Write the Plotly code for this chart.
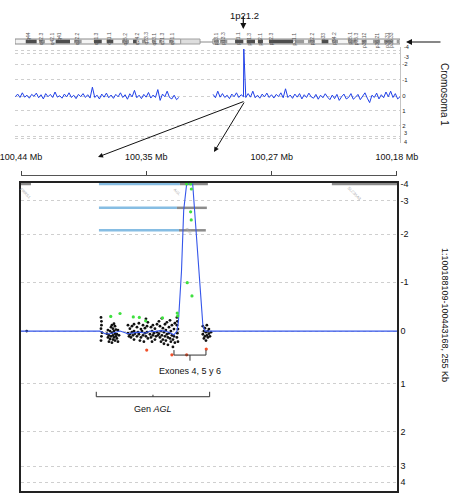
import numpy as np
import plotly.graph_objects as go

W, H = 463, 494
FONT = "Arial, Liberation Sans, sans-serif"


def px(x):
    return x / W


def py(y):
    return 1 - y / H


# ---------------- top panel: chromosome 1 profile (Mb, q-ter drawn on the left)
chr_len = 247.2

left_mb = [247.0, 245.5, 244.0, 242.5, 241.0, 239.5, 238.0, 236.5, 235.0, 233.5,
           232.0, 230.5, 229.0, 227.5, 226.0, 224.5, 223.0, 221.5, 220.0, 218.5,
           217.0, 215.5, 214.0, 212.5, 211.0, 209.5, 208.0, 206.5, 205.0, 203.5,
           202.0, 200.5, 199.0, 197.5, 196.0, 194.5, 193.0, 191.5, 190.0, 188.5,
           187.0, 185.5, 184.0, 182.5, 181.0, 179.5, 178.0, 176.5, 175.0, 173.5,
           172.0, 170.5, 169.0, 167.5, 166.0, 164.5, 163.0, 161.5, 160.0, 158.5,
           157.0, 155.5, 154.0, 152.5, 151.0, 149.5, 148.0, 146.5, 145.0, 143.5,
           142.0]
left_lr = [0.05, -0.12, 0.10, -0.20, 0.08, -0.05, 0.15, -0.10, 0.02, -0.18,
           0.12, -0.08, 0.20, -0.15, 0.05, -0.10, 0.10, -0.25, 0.08, -0.02,
           0.15, -0.12, 0.06, -0.20, 0.10, -0.05, 0.18, -0.10, 0.04, -0.15,
           0.10, -0.08, 0.14, -0.55, 0.10, -0.05, 0.20, -0.12, 0.08, -0.18,
           0.12, -0.06, 0.16, -0.10, 0.05, -0.20, 0.10, -0.08, 0.22, -0.14,
           0.06, -0.35, 0.12, -0.05, 0.18, -0.10, 0.08, -0.22, 0.14, -0.06,
           0.10, -0.40, 0.30, -0.12, 0.05, -0.30, 0.10, 0.20, -0.05, 0.25,
           0.10]
right_mb = [120.0, 118.5, 117.0, 115.5, 114.0, 112.5, 111.0, 109.5, 108.0, 106.5,
            105.0, 103.5, 102.0, 100.5, 100.3, 99.0, 97.5, 96.0, 94.5, 93.0,
            91.5, 90.0, 88.5, 87.0, 85.5, 84.0, 82.5, 81.0, 79.5, 78.0,
            76.5, 75.0, 73.5, 72.0, 70.5, 69.0, 67.5, 66.0, 64.5, 63.0,
            61.5, 60.0, 58.5, 57.0, 55.5, 54.0, 52.5, 51.0, 49.5, 48.0,
            46.5, 45.0, 43.5, 42.0, 40.5, 39.0, 37.5, 36.0, 34.5, 33.0,
            31.5, 30.0, 28.5, 27.0, 25.5, 24.0, 22.5, 21.0, 19.5, 18.0,
            16.5, 15.0, 13.5, 12.0, 10.5, 9.0, 7.5, 6.0, 4.5, 3.0,
            1.5, 0.0]
right_lr = [-0.10, 0.12, -0.30, 0.08, -0.15, 0.10, -0.05, 0.18, -0.12, 0.05,
            -0.20, 0.10, -0.08, 0.05, -4.50, 0.10, -0.15, 0.08, -0.30, 0.12,
            -0.05, 0.15, -0.12, 0.06, -0.18, 0.10, -0.08, 0.14, -0.10, 0.04,
            -0.20, 0.12, -0.45, 0.10, -0.06, 0.16, -0.12, 0.08, -0.15, 0.20,
            -0.08, 0.10, -0.18, 0.06, 0.15, -0.10, 0.22, -0.05, 0.12, -0.14,
            0.08, 0.25, -0.06, 0.18, -0.10, 0.30, 0.05, -0.12, 0.20, 0.10,
            -0.15, 0.22, 0.08, -0.10, 0.25, 0.05, -0.20, 0.15, 0.45, -0.05,
            0.10, -0.18, 0.20, -0.08, 0.12, -0.25, 0.05, -0.30, 0.10, -0.15,
            0.20, 0.05]

# ideogram bands (Mb)
band_start = [240.3, 231.8, 221.1, 209.3, 196.5, 188.3, 178.5, 171.4, 165.7, 159.2,
              154.7, 148.3, 119.4, 115.6, 105.9, 98.4, 91.2, 84.1, 67.4, 59.1,
              50.3, 43.7, 33.4, 24.6, 17.3, 10.3, 2.1]
band_end = [233.3, 228.0, 211.9, 204.4, 191.5, 184.1, 174.0, 169.1, 163.3, 156.9,
            153.0, 145.6, 116.2, 110.9, 100.6, 93.1, 88.0, 68.7, 61.6, 54.6,
            46.0, 39.8, 27.8, 21.4, 12.8, 4.3, 0.6]
band_stain = ["dark", "gray", "dark", "gray", "dark", "dark", "gray", "dark", "gray", "gray",
              "gray", "gray", "gray", "gray", "dark", "dark", "dark", "dark", "gray", "gray",
              "dark", "gray", "gray", "gray", "gray", "gray", "gray"]
heterochrom = (140.8, 128.4)
centromere = (128.4, 120.1)

band_lbl_mb = [239.3, 230.7, 223.6, 219.4, 207.6, 195.4, 187.3, 176.6, 169.1, 163.7,
               158.0, 153.0, 146.6, 118.3, 114.1, 104.5, 97.0, 89.9, 83.0, 68.1,
               56.7, 49.6, 42.8, 32.7, 28.4, 23.1, 14.6, 8.5, 6.0]
band_lbl = ["q44", "q42.3", "q42.1", "q41", "q32.2", "q31.3", "q31.1", "q25.2", "q24.2", "q23.3",
            "q23.1", "q21.3", "q21.1", "p13.1", "p13.3", "p21.1", "p21.3", "p22.1", "p22.3", "p31.1",
            "p32.2", "p33", "p34.2", "p35.1", "p35.3", "p36.12", "p36.21", "p36.31", "p36.33"]

# ---------------- bottom panel: zoom 1:100188109-100443168 (kb)
zoom_start, zoom_end = 100443.168, 100188.109
zoom_ticks = [100443.1, 100358.15, 100273.13, 100188.2]
zoom_tick_txt = ["100,44 Mb", "100,35 Mb", "100,27 Mb", "100,18 Mb"]

probe_kb = [100439.3,
            100388.9, 100388.6, 100388.6, 100388.9, 100388.2, 100388.6, 100388.9,
            100384.9, 100384.2, 100384.2, 100383.5, 100383.5, 100382.8, 100382.8, 100382.1, 100382.1, 100381.5,
            100381.5, 100381.5, 100380.8, 100380.8, 100380.8, 100380.1, 100380.1, 100380.1, 100379.4, 100379.4,
            100379.4, 100378.8, 100378.8, 100378.1, 100378.1, 100377.4, 100377.4, 100376.7,
            100370.6, 100370.6, 100369.9, 100369.3, 100369.3, 100368.6, 100367.9, 100367.9, 100367.2, 100366.5,
            100366.5, 100366.5, 100365.9,
            100364.5, 100364.5, 100363.8, 100363.2, 100363.2, 100362.5, 100361.8, 100361.8, 100361.1, 100360.4,
            100360.4, 100359.8, 100359.1, 100359.1, 100358.4, 100358.4, 100357.7, 100357.7, 100357.1, 100357.1,
            100355.7, 100355.0, 100355.0, 100354.3, 100354.3, 100353.7, 100353.7, 100353.0, 100352.3, 100352.3,
            100351.6, 100350.9, 100350.9, 100350.3,
            100349.6, 100349.6, 100348.9, 100348.9, 100348.2, 100348.2, 100347.6, 100347.6, 100346.9, 100346.9,
            100346.2, 100346.2, 100345.5, 100345.5, 100344.9, 100344.9, 100344.2, 100344.2, 100343.5, 100343.5,
            100342.8, 100342.8, 100342.1, 100342.1, 100341.5, 100341.5, 100340.8, 100340.8, 100340.1, 100340.1,
            100339.4, 100339.4, 100338.8, 100338.8,
            100337.4, 100337.1, 100337.4, 100336.7, 100337.1, 100337.4, 100336.7,
            100319.8, 100319.8, 100319.1, 100319.1, 100318.4, 100318.4, 100317.7, 100317.7, 100317.1, 100317.1,
            100316.4, 100316.4, 100315.7, 100315.7, 100315.0, 100314.3]
probe_lr = [0.0,
            -0.28, -0.20, -0.12, -0.05, 0.03, 0.10, 0.18,
            0.05, -0.02, 0.12, 0.08, 0.20, 0.00, 0.15, -0.08, 0.10, -0.12,
            0.03, 0.22, -0.05, 0.08, 0.16, -0.15, 0.00, 0.12, -0.10, 0.05,
            0.18, -0.03, 0.10, 0.06, 0.14, -0.02, 0.20, 0.08,
            -0.12, 0.04, 0.10, -0.05, 0.06, 0.12, -0.10, 0.02, 0.08, -0.14,
            0.00, 0.16, 0.05,
            -0.08, 0.10, 0.02, -0.16, 0.06, 0.18, -0.04, 0.12, 0.00, -0.12,
            0.08, 0.20, -0.06, 0.04, -0.25, 0.10, -0.10, 0.02, 0.14, -0.18,
            0.06, -0.08, 0.12, 0.00, 0.20, -0.12, 0.08, 0.04, -0.05, 0.16,
            0.10, -0.14, 0.02, 0.08,
            -0.20, 0.05, -0.10, 0.12, 0.00, 0.20, -0.26, 0.08, -0.06, 0.16,
            0.02, 0.24, -0.14, 0.10, -0.02, 0.18, 0.06, -0.18, 0.12, 0.26,
            -0.08, 0.04, 0.14, -0.22, 0.00, 0.20, -0.12, 0.08, 0.16, 0.30,
            -0.04, 0.10, 0.22, -0.16,
            -0.28, -0.20, -0.12, -0.04, 0.04, 0.12, 0.20,
            -0.10, 0.06, 0.00, 0.14, -0.06, 0.10, 0.02, 0.18, -0.12, 0.08,
            0.00, 0.12, 0.05, -0.04, 0.10, 0.02]

green_kb = [100382.3, 100376.0, 100367.0, 100362.9, 100358.6, 100347.2, 100337.2, 100336.9,
            100330.8, 100328.1, 100327.6, 100328.1, 100327.7, 100330.4, 100327.2]
green_lr = [-0.30, -0.36, -0.29, -0.28, -0.21, -0.27, -0.37, -0.31,
            -4.0, -4.0, -3.7, -2.67, -2.43, -0.99, -0.72]
red_kb = [100357.9, 100340.8, 100330.8, 100317.5]
red_lr = [0.36, 0.45, 0.45, 0.34]

avg_kb = [100443.2, 100389.6, 100386.2, 100382.8, 100376.0, 100370.6, 100365.9, 100362.5, 100359.1,
          100355.7, 100352.3, 100348.9, 100345.5, 100342.1, 100339.4, 100337.4, 100336.4, 100335.4,
          100334.3, 100332.8, 100330.8, 100326.7, 100322.3, 100321.1, 100319.8, 100318.4, 100188.1]
avg_lr = [0.0, 0.0, 0.05, 0.05, 0.0, 0.05, 0.03, 0.02, 0.04,
          0.0, 0.01, -0.01, 0.0, 0.03, 0.07, 0.0, -0.18, -0.62,
          -1.23, -2.72, -4.0, -4.0, -1.1, -0.49, -0.12, 0.0, 0.0]

# gene track segments (start kb, end kb, row, colour key)
gene_x0 = [100443.2, 100390.3, 100335.4, 100390.3, 100337.4, 100390.3, 100336.0, 100232.3]
gene_x1 = [100436.4, 100335.4, 100316.4, 100337.4, 100317.1, 100336.0, 100317.8, 100188.1]
gene_row = [-4.0, -4.0, -4.0, -2.79, -2.79, -2.12, -2.12, -4.0]
gene_col = ["gray", "blue", "gray", "blue", "gray", "blue", "gray", "gray"]
gene_lbl_kb = [100439.8, 100336.7, 100328.6, 100216.8]
gene_lbl_row = [-3.45, -3.5, -2.09, -3.45]
gene_lbl = ["FRRS1", "AGL", "AGL", "SLC35A3"]

exon_kb = (100339.4, 100317.7)
agl_kb = (100392.1, 100315.2)

lr_ticks = [-4, -3, -2, -1, 0, 1, 2, 3, 4]
# the top panel packs -4/-3 and 3/4 very close: those labels are set apart by hand
top_tick_txt = ["", "", "-2", "-1", "0", "1", "2", "", ""]
top_packed = [-4, -3, 3, 4]
top_packed_shift = [3.5, -3.5, 3.5, -3.5]

# compressed log-ratio scales (linear between -2 and 2)
top_v = [-5, -4, -3, -2, -1, 0, 1, 2, 3, 4, 5]
top_f = [-3.15, -2.95, -2.79, -2.06, -1.04, 0, 0.95, 1.94, 2.6, 2.79, 2.98]
zoom_v = [-4, -3, -2, -1, 0, 1, 2, 3, 4]
zoom_f = [-2.98, -2.64, -1.96, -0.99, 0, 1.07, 2.04, 2.74, 3.06]


def ft(v):
    return np.interp(v, top_v, top_f)


def fz(v):
    return np.interp(v, zoom_v, zoom_f)


fig = go.Figure()

prof = dict(mode="lines", line=dict(color="#2040e8", width=1), xaxis="x", yaxis="y", hoverinfo="skip")
fig.add_trace(go.Scatter(x=left_mb, y=ft(left_lr), **prof))
fig.add_trace(go.Scatter(x=right_mb, y=ft(right_lr), **prof))

track_colors = {"gray": "#8c8c8c", "blue": "#86bde3"}
for x0, x1, r, c in zip(gene_x0, gene_x1, gene_row, gene_col):
    fig.add_trace(go.Scatter(x=[x0, x1], y=[fz(r), fz(r)], mode="lines",
                             line=dict(color=track_colors[c], width=2.5),
                             xaxis="x2", yaxis="y2", hoverinfo="skip"))

fig.add_trace(go.Scatter(x=probe_kb, y=fz(probe_lr), mode="markers",
                         marker=dict(color="#111111", size=2.8),
                         xaxis="x2", yaxis="y2"))
fig.add_trace(go.Scatter(x=avg_kb, y=fz(avg_lr), mode="lines",
                         line=dict(color="#3556ea", width=1.1),
                         xaxis="x2", yaxis="y2"))
fig.add_trace(go.Scatter(x=green_kb, y=fz(green_lr), mode="markers",
                         marker=dict(color="#3fe03f", size=3.2),
                         xaxis="x2", yaxis="y2"))
fig.add_trace(go.Scatter(x=red_kb, y=fz(red_lr), mode="markers",
                         marker=dict(color="#f0502a", size=3.2),
                         xaxis="x2", yaxis="y2"))
# carrier for the ruler axis above the zoom panel
fig.add_trace(go.Scatter(x=[zoom_start, zoom_end], y=[0, 0], mode="markers",
                         marker=dict(opacity=0), xaxis="x3", yaxis="y2", hoverinfo="skip"))

# ideogram
shapes = []
ide_top, ide_bot = py(39), py(44)
stain_col = {"dark": "#4d4d4d", "gray": "#9a9a9a"}
shapes.append(dict(type="rect", xref="x", yref="paper", x0=chr_len, x1=heterochrom[0],
                   y0=ide_bot, y1=ide_top, fillcolor="#f4f4f4", line=dict(color="#8a8a8a", width=1)))
shapes.append(dict(type="rect", xref="x", yref="paper", x0=heterochrom[0], x1=heterochrom[1],
                   y0=ide_bot, y1=ide_top, fillcolor="#dedede", line=dict(color="#a0a0a0", width=1)))
shapes.append(dict(type="line", xref="x", yref="paper", x0=centromere[0], x1=centromere[1],
                   y0=py(42), y1=py(42), line=dict(color="#8a8a8a", width=1)))
shapes.append(dict(type="rect", xref="x", yref="paper", x0=centromere[1], x1=0,
                   y0=ide_bot, y1=ide_top, fillcolor="#f4f4f4", line=dict(color="#8a8a8a", width=1)))
for s, e, st in zip(band_start, band_end, band_stain):
    shapes.append(dict(type="rect", xref="x", yref="paper", x0=s, x1=e, y0=py(43.3), y1=py(39.7),
                       fillcolor=stain_col[st], line=dict(width=0)))

# brackets
ex0, ex1 = exon_kb
exc = (ex0 + ex1) / 2
shapes.append(dict(type="path", xref="x2", yref="y2",
                   path=f"M {ex0},0.385 L {ex0},0.486 L {ex1},0.486 L {ex1},0.385 M {exc},0.486 L {exc},0.6",
                   line=dict(color="#333333", width=1)))
ag0, ag1 = agl_kb
agc = (ag0 + ag1) / 2
shapes.append(dict(type="path", xref="x2", yref="y2",
                   path=f"M {ag0},1.23 L {ag0},1.33 L {ag1},1.33 L {ag1},1.23 M {agc},1.33 L {agc},1.29",
                   line=dict(color="#333333", width=1)))

annotations = []
for m, t in zip(band_lbl_mb, band_lbl):
    annotations.append(dict(x=m, y=py(30), xref="x", yref="paper", text=t, showarrow=False,
                            textangle=-90, font=dict(family=FONT, size=5, color="#555555")))
for k, r, t in zip(gene_lbl_kb, gene_lbl_row, gene_lbl):
    annotations.append(dict(x=k, y=fz(r), xref="x2", yref="y2", text=t, showarrow=False,
                            textangle=45, font=dict(family=FONT, size=4, color="#b0b0b0")))
for v, sh in zip(top_packed, top_packed_shift):
    annotations.append(dict(x=px(402), y=ft(v), xref="paper", yref="y", text=str(v), showarrow=False,
                            xanchor="left", yshift=sh, font=dict(family=FONT, size=5.5, color="#222222")))

annotations.append(dict(x=exc, y=0.8, xref="x2", yref="y2", text="Exones 4, 5 y 6", showarrow=False,
                        font=dict(family=FONT, size=9, color="#111111")))
annotations.append(dict(x=agc, y=1.57, xref="x2", yref="y2", text="Gen <i>AGL</i>", showarrow=False,
                        font=dict(family=FONT, size=9, color="#111111")))

annotations.append(dict(x=px(244.5), y=py(8.5), xref="paper", yref="paper", text="1p21.2",
                        showarrow=False, font=dict(family=FONT, size=9.5, color="#111111")))
arrow = dict(xref="paper", yref="paper", text="", showarrow=True, arrowhead=2, arrowsize=1,
             arrowwidth=1.2, arrowcolor="#111111", axref="pixel", ayref="pixel")
annotations.append(dict(arrow, x=px(243.3), y=py(29), ax=0, ay=-14))
annotations.append(dict(arrow, x=px(406), y=py(42), ax=36, ay=0))
annotations.append(dict(arrow, x=px(98), y=py(157), ax=147, ay=-56, arrowwidth=1))
annotations.append(dict(arrow, x=px(214), y=py(152), ax=31, ay=-51, arrowwidth=1))

annotations.append(dict(x=px(452), y=py(61), xref="paper", yref="paper", text="Cromosoma 1",
                        showarrow=False, textangle=90, font=dict(family=FONT, size=10, color="#111111")))
annotations.append(dict(x=px(452), y=py(315), xref="paper", yref="paper",
                        text="1:100188109-100443168, 255 Kb",
                        showarrow=False, textangle=90, font=dict(family=FONT, size=9, color="#111111")))

grid = dict(showgrid=True, gridcolor="#cfcfcf", griddash="dot", gridwidth=1, zeroline=False)

fig.update_layout(
    width=W, height=H,
    autosize=False,
    margin=dict(l=0, r=0, t=0, b=0, autoexpand=False),
    paper_bgcolor="white", plot_bgcolor="white",
    showlegend=False,
    font=dict(family=FONT, color="#111111"),
    xaxis=dict(domain=[px(15), px(400)], range=[chr_len, 0], visible=False, anchor="y",
               automargin=False),
    yaxis=dict(domain=[py(143), py(47)], range=[3.05, -3.18], side="right", anchor="x",
               tickvals=ft(lr_ticks), ticktext=top_tick_txt,
               tickfont=dict(size=6, color="#222222"), ticks="", automargin=False,
               showline=True, linecolor="#c4c4c4", linewidth=1, **grid),
    xaxis2=dict(domain=[px(21), px(397)], range=[zoom_start, zoom_end], anchor="y2",
                showticklabels=False, ticks="", showgrid=False, zeroline=False, automargin=False,
                showline=True, mirror=True, linecolor="#222222", linewidth=1.5),
    yaxis2=dict(domain=[py(491), py(183)], range=[3.24, -3.0], side="right", anchor="x2",
                tickvals=fz(lr_ticks), ticktext=[str(t) for t in lr_ticks],
                tickfont=dict(size=9, color="#111111"), ticks="", automargin=False,
                showline=True, mirror=True, linecolor="#222222", linewidth=1.5, **grid),
    xaxis3=dict(domain=[px(21), px(397)], overlaying="x2", side="top", anchor="free",
                position=py(175), range=[zoom_start, zoom_end], automargin=False,
                tickvals=zoom_ticks, ticktext=zoom_tick_txt, ticks="outside", ticklen=4,
                tickcolor="#444444", tickfont=dict(size=9, color="#111111"), ticklabelstandoff=7,
                ticklabeloverflow="allow",
                showline=True, linecolor="#555555", linewidth=1, showgrid=False, zeroline=False),
    shapes=shapes,
    annotations=annotations,
)

# page has a default 8px body margin: drop it so the figure sits at the window origin
fix_page = ("document.body.style.margin='0';document.body.style.overflow='hidden';"
            "var gd=document.getElementById('{plot_id}');"
            "gd.style.width='%dpx';gd.style.height='%dpx';"
            "Plotly.relayout(gd,{width:%d,height:%d,autosize:false});" % (W, H, W, H))
fig.write_html("out.html", post_script=fix_page,
               config={"responsive": False, "displayModeBar": False})
